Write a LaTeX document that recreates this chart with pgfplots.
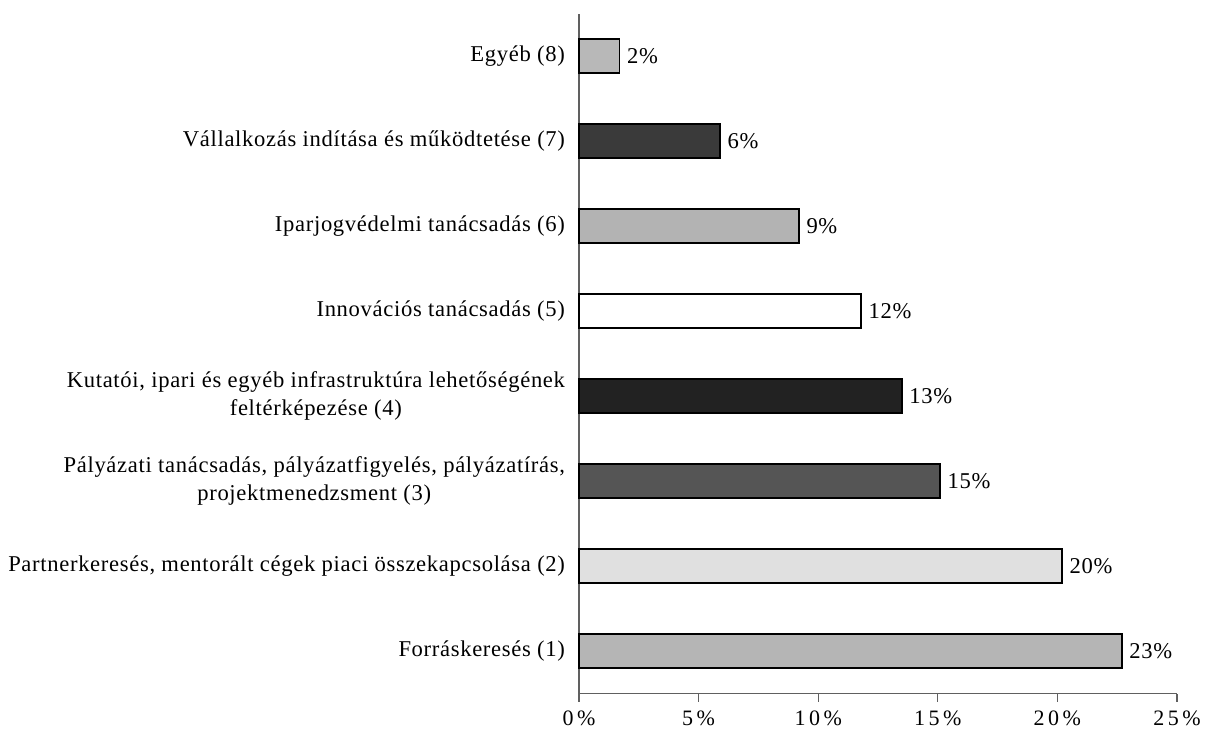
\documentclass[border=0pt]{standalone}
\usepackage{pgfplots}
\pgfplotsset{compat=1.18}
\usepackage{fontspec}
\setmainfont{Liberation Serif}
\newfontfamily\lsfont[LetterSpace=3]{Liberation Serif}
\newfontfamily\tickfont[LetterSpace=16]{Liberation Serif}
\definecolor{cEgyeb}{HTML}{B8B8B8}
\definecolor{cVall}{HTML}{3A3A3A}
\definecolor{cIpar}{HTML}{B3B3B3}
\definecolor{cInno}{HTML}{FFFFFF}
\definecolor{cKut}{HTML}{222222}
\definecolor{cPaly}{HTML}{555555}
\definecolor{cPart}{HTML}{E0E0E0}
\definecolor{cForr}{HTML}{B5B5B5}
\definecolor{axisgray}{HTML}{606060}
\begin{document}
\begin{tikzpicture}[x=1pt,y=1pt]
\useasboundingbox (0,0) rectangle (602.5,367.5);
\begin{axis}[
  at={(289.5pt,20.75pt)}, anchor=origin,
  scale only axis, width=299pt, height=340pt,
  xmin=0, xmax=25, ymin=0.5, ymax=8.5,
  axis x line*=bottom, axis y line*=left,
  axis line style={axisgray, line width=0.6pt},
  xtick={0,5,10,15,20,25},
  xticklabels={0\%,5\%,10\%,15\%,20\%,25\%},
  xtick style={axisgray, line width=0.6pt},
  xtick align=outside,
  major tick length=4pt,
  xticklabel style={font=\tickfont\fontsize{11}{12}\selectfont, yshift=-1pt},
  ytick={1,2,3,4,5,6,7,8},
  yticklabels={
    {Forráskeresés (1)},
    {Partnerkeresés, mentorált cégek piaci összekapcsolása (2)},
    {Pályázati tanácsadás, pályázatfigyelés, pályázatírás,\\projektmenedzsment (3)},
    {Kutatói, ipari és egyéb infrastruktúra lehetőségének\\feltérképezése (4)},
    {Innovációs tanácsadás (5)},
    {Iparjogvédelmi tanácsadás (6)},
    {Vállalkozás indítása és működtetése (7)},
    {Egyéb (8)}},
  yticklabel style={font=\lsfont\fontsize{11.3}{13.6}\selectfont, align=center, xshift=0.5pt},
  ytick style={draw=none},
  minor ytick={1.5,2.5,3.5,4.5,5.5,6.5,7.5},
  minor tick length=4pt,
  minor y tick style={axisgray, line width=0.6pt},
  ytick align=outside,
  xbar, bar width=17pt, bar shift=0pt,
  every axis plot/.append style={draw=black, line width=0.8pt},
  nodes near coords,
  point meta=explicit symbolic,
  every node near coord/.append style={font=\lsfont\fontsize{11.3}{12}\selectfont, black, anchor=west, xshift=0pt},
  clip=false,
]
\addplot[fill=cForr] coordinates {(22.7,1) [23\%]};
\addplot[fill=cPart] coordinates {(20.2,2) [20\%]};
\addplot[fill=cPaly] coordinates {(15.1,3) [15\%]};
\addplot[fill=cKut]  coordinates {(13.5,4) [13\%]};
\addplot[fill=cInno] coordinates {(11.8,5) [12\%]};
\addplot[fill=cIpar] coordinates {(9.2,6) [9\%]};
\addplot[fill=cVall] coordinates {(5.9,7) [6\%]};
\addplot[fill=cEgyeb] coordinates {(1.7,8) [2\%]};
\end{axis}
\end{tikzpicture}
\end{document}
